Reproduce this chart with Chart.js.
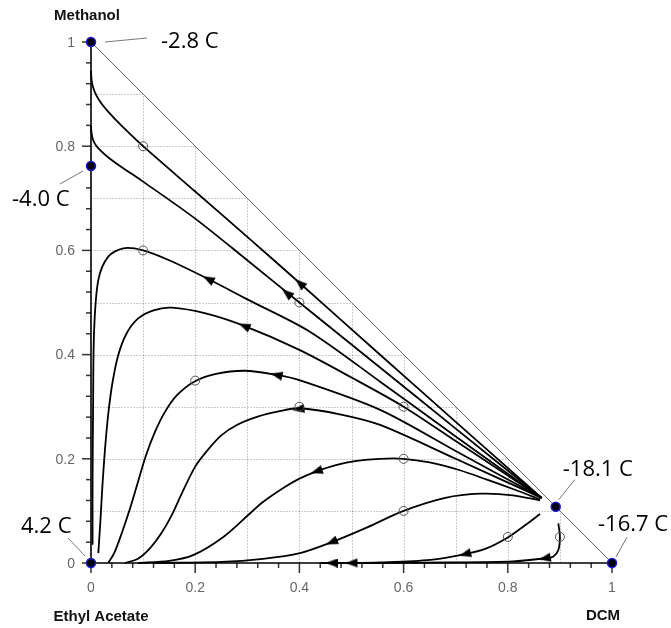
<!DOCTYPE html>
<html>
<head>
<meta charset="utf-8">
<script src="https://cdn.jsdelivr.net/npm/chart.js@4.4.1/dist/chart.umd.min.js"></script>
<style>
  html, body { margin: 0; padding: 0; background: #fff; }
  #wrap { width: 671px; height: 628px; }
</style>
</head>
<body>
<div id="wrap"><canvas id="ternary" width="671" height="628"></canvas></div>
<script>
// Axis ticks and labels
const majorTicks = [0, 0.2, 0.4, 0.6, 0.8, 1];
const tickLabels = ['0', '0.2', '0.4', '0.6', '0.8', '1'];
const gridValues = [0.1, 0.2, 0.3, 0.4, 0.5, 0.6, 0.7, 0.8, 0.9];
const axisNames = ['Methanol', 'Ethyl Acetate', 'DCM'];

// Pure components / azeotropes and their boiling temperatures
const nodePoints = [[0, 1], [0, 0.762], [0, 0], [0.892, 0.108], [1, 0]];
const nodeTemps = ['-2.8 C', '-4.0 C', '4.2 C', '-18.1 C', '-16.7 C'];

// Residue curves, each traced outward from the DCM/methanol azeotrope
const curveA = [[0.865,0.125],[0.7,0.271],[0.55,0.404],[0.401,0.537],[0.3,0.626],[0.2,0.713],[0.1,0.8],[0.06,0.838],[0.035,0.864],[0.02,0.882],[0.01,0.898],[0.004,0.913],[0.001,0.928],[0,0.945]];
const curveB = [[0.865,0.125],[0.7,0.258],[0.55,0.379],[0.4,0.5],[0.3,0.581],[0.2,0.661],[0.1,0.732],[0.06,0.759],[0.035,0.777],[0.02,0.79],[0.01,0.801],[0.004,0.812],[0.001,0.825],[0,0.84]];
const curveC = [[0.865,0.125],[0.7,0.243],[0.555,0.348],[0.42,0.444],[0.3,0.506],[0.225,0.545],[0.15,0.581],[0.1,0.6],[0.062,0.604],[0.033,0.588],[0.014,0.543],[0.006,0.447],[0.004,0.3],[0.003,0.15],[0.003,0.035]];
const curveD = [[0.865,0.125],[0.7,0.234],[0.6,0.3],[0.5,0.356],[0.4,0.409],[0.294,0.455],[0.22,0.479],[0.155,0.49],[0.12,0.485],[0.09,0.469],[0.068,0.44],[0.052,0.398],[0.041,0.345],[0.033,0.285],[0.027,0.22],[0.022,0.15],[0.018,0.08],[0.014,0.019]];
const curveE = [[0.865,0.125],[0.7,0.215],[0.555,0.294],[0.4,0.351],[0.356,0.361],[0.296,0.369],[0.24,0.363],[0.198,0.348],[0.165,0.322],[0.142,0.29],[0.123,0.252],[0.105,0.205],[0.09,0.155],[0.075,0.105],[0.06,0.06],[0.045,0.02],[0.033,0.0]];
const curveF = [[0.865,0.125],[0.7,0.2],[0.555,0.265],[0.48,0.285],[0.4,0.297],[0.36,0.291],[0.32,0.281],[0.28,0.265],[0.25,0.245],[0.225,0.218],[0.2,0.185],[0.175,0.135],[0.155,0.092],[0.135,0.057],[0.113,0.028],[0.09,0.008],[0.065,0.0]];
const curveG = [[0.862,0.122],[0.81,0.142],[0.76,0.16],[0.708,0.178],[0.65,0.193],[0.6,0.2],[0.555,0.2],[0.51,0.196],[0.47,0.188],[0.433,0.176],[0.4,0.162],[0.369,0.144],[0.33,0.117],[0.305,0.095],[0.254,0.05],[0.196,0.015],[0.15,0.004],[0.09,0.0]];
const curveH = [[0.862,0.12],[0.81,0.13],[0.747,0.133],[0.68,0.125],[0.6,0.1],[0.529,0.068],[0.462,0.04],[0.401,0.019],[0.33,0.008],[0.25,0.002],[0.12,0.0]];
const curveI = [[0.862,0.094],[0.83,0.07],[0.8,0.049],[0.759,0.028],[0.718,0.017],[0.651,0.006],[0.555,0.001],[0.5,0.0],[0.44,0.0]];
const curveJ = [[0.897,0.076],[0.9,0.05],[0.897,0.025],[0.887,0.012],[0.871,0.009],[0.81,0.003],[0.68,0.001],[0.5,0.0],[0.462,0.0],[0.44,0.0]];
const curves = [curveA, curveB, curveC, curveD, curveE, curveF, curveG, curveH, curveI, curveJ];

// Arrow heads and open-circle markers on the curves
const arrowPoints = [[0.401,0.537],[0.376,0.518],[0.225,0.545],[0.294,0.455],[0.356,0.361],[0.398,0.295],[0.433,0.176],[0.462,0.04],[0.718,0.017],[0.5,0.0],[0.871,0.009],[0.462,0.0]];
const circlePoints = [[0.1,0.8],[0.4,0.5],[0.1,0.6],[0.2,0.35],[0.4,0.3],[0.6,0.3],[0.6,0.2],[0.6,0.1],[0.8,0.05],[0.9,0.05]];

// small arrowhead image, tip pointing up
const arrowImg = document.createElement('canvas');
arrowImg.width = 9;
arrowImg.height = 12;
const actx = arrowImg.getContext('2d');
actx.fillStyle = '#000';
actx.beginPath();
actx.moveTo(4.5, 0);
actx.lineTo(9, 12);
actx.lineTo(0, 12);
actx.closePath();
actx.fill();

const toXY = arr => arr.map(([x, y]) => ({x, y}));

function segDist(p, a, b) {
  const vx = b[0] - a[0], vy = b[1] - a[1];
  const len = vx * vx + vy * vy || 1e-12;
  let t = ((p[0] - a[0]) * vx + (p[1] - a[1]) * vy) / len;
  t = Math.max(0, Math.min(1, t));
  const dx = a[0] + t * vx - p[0], dy = a[1] + t * vy - p[1];
  return Math.sqrt(dx * dx + dy * dy);
}

// rotation of an arrow = direction of the nearest curve segment, in pixels
function arrowRotation(ctx) {
  const p = arrowPoints[ctx.dataIndex];
  if (!p) return 0;
  let best = null, bestD = Infinity;
  curves.forEach(c => {
    for (let i = 0; i < c.length - 1; i++) {
      const d = segDist(p, c[i], c[i + 1]);
      if (d < bestD) { bestD = d; best = [c[i], c[i + 1]]; }
    }
  });
  const {x, y} = ctx.chart.scales;
  const dx = x.getPixelForValue(best[1][0]) - x.getPixelForValue(best[0][0]);
  const dy = y.getPixelForValue(best[1][1]) - y.getPixelForValue(best[0][1]);
  return Math.atan2(dx, -dy) * 180 / Math.PI;
}

// frame: clipped grid, axes, ticks, tick labels, axis titles
const framePlugin = {
  id: 'ternaryFrame',
  beforeDatasetsDraw(chart) {
    const {ctx, scales: {x, y}} = chart;
    const px = v => x.getPixelForValue(v);
    const py = v => y.getPixelForValue(v);
    ctx.save();

    ctx.strokeStyle = 'rgba(0,0,0,0.2)';
    ctx.lineWidth = 1;
    ctx.setLineDash([2, 1]);
    gridValues.forEach(v => {
      const gy = Math.round(py(v)) + 0.5;
      ctx.beginPath();
      ctx.moveTo(px(0), gy);
      ctx.lineTo(px(1 - v), gy);
      ctx.stroke();
      const gx = Math.round(px(v)) + 0.5;
      ctx.beginPath();
      ctx.moveTo(gx, py(0));
      ctx.lineTo(gx, py(1 - v));
      ctx.stroke();
    });
    ctx.setLineDash([]);

    // ticks every 0.04, longer at labelled values
    ctx.strokeStyle = '#333';
    ctx.lineWidth = 1.5;
    for (let i = 0; i <= 25; i++) {
      const v = i * 0.04;
      const major = i % 5 === 0;
      ctx.beginPath();
      ctx.moveTo(px(0) - (major ? 9 : 5), py(v));
      ctx.lineTo(px(0), py(v));
      ctx.stroke();
      ctx.beginPath();
      ctx.moveTo(px(v), py(0));
      ctx.lineTo(px(v), py(0) + (major ? 10 : 5));
      ctx.stroke();
    }

    // axis lines
    ctx.strokeStyle = '#000';
    ctx.lineWidth = 1.6;
    ctx.beginPath();
    ctx.moveTo(px(0), py(0));
    ctx.lineTo(px(0), py(1));
    ctx.moveTo(px(0), py(0));
    ctx.lineTo(px(1), py(0));
    ctx.stroke();

    // tick labels
    ctx.fillStyle = '#666';
    ctx.font = '14px "Liberation Sans", Arial, sans-serif';
    ctx.textAlign = 'right';
    ctx.textBaseline = 'middle';
    majorTicks.forEach((v, i) => ctx.fillText(tickLabels[i], px(0) - 16, py(v) + 1));
    ctx.textAlign = 'center';
    majorTicks.forEach((v, i) => ctx.fillText(tickLabels[i], px(v), py(0) + 25));

    // axis titles
    ctx.fillStyle = '#111';
    ctx.font = 'bold 15px "Liberation Sans", Arial, sans-serif';
    ctx.fillText(axisNames[0], px(0) - 4, py(1) - 26);
    ctx.fillText(axisNames[1], px(0) + 10, py(0) + 54);
    ctx.fillText(axisNames[2], px(1) - 9, py(0) + 53);
    ctx.restore();
  }
};

// temperature labels with short leader lines
const labelOffsets = [
  {tx: 70, ty: 6, l: [14, 0, 56, -4]},
  {tx: -79, ty: 40, l: [-8, 5, -31, 18]},
  {tx: -70, ty: -30, l: [-6, -7, -23, -25]},
  {tx: 7, ty: -31, l: [3, -7, 19, -27]},
  {tx: -14, ty: -32, l: [4, -6, 15, -26]}
];
const tempLabelPlugin = {
  id: 'tempLabels',
  afterDatasetsDraw(chart) {
    const {ctx, scales: {x, y}} = chart;
    ctx.save();
    ctx.font = '22px "Open Sans", "Noto Sans", sans-serif';
    ctx.fillStyle = '#000';
    ctx.textAlign = 'left';
    ctx.textBaseline = 'alphabetic';
    nodePoints.forEach((p, i) => {
      const cx = x.getPixelForValue(p[0]);
      const cy = y.getPixelForValue(p[1]);
      const o = labelOffsets[i];
      ctx.strokeStyle = '#777';
      ctx.lineWidth = 1;
      ctx.beginPath();
      ctx.moveTo(cx + o.l[0], cy + o.l[1]);
      ctx.lineTo(cx + o.l[2], cy + o.l[3]);
      ctx.stroke();
      ctx.fillText(nodeTemps[i], cx + o.tx, cy + o.ty);
    });
    ctx.restore();
  }
};

const curveSets = curves.map(c => ({
  data: toXY(c),
  showLine: true,
  borderColor: '#000',
  borderWidth: 1.8,
  pointRadius: 0,
  tension: 0.3,
  fill: false,
  clip: false,
  order: 3
}));

new Chart(document.getElementById('ternary'), {
  type: 'scatter',
  data: {
    datasets: [
      {
        data: toXY(nodePoints),
        pointRadius: 4.5,
        pointBackgroundColor: '#000',
        pointBorderColor: '#1a1ad6',
        pointBorderWidth: 1.5,
        clip: false,
        order: 0
      },
      {
        data: toXY(circlePoints),
        pointRadius: 4.5,
        pointBackgroundColor: 'rgba(255,255,255,0)',
        pointBorderColor: '#555',
        pointBorderWidth: 1,
        clip: false,
        order: 1
      },
      {
        data: toXY(arrowPoints),
        pointStyle: arrowImg,
        pointRadius: 5,
        pointRotation: arrowRotation,
        clip: false,
        order: 2
      },
      ...curveSets,
      {
        data: toXY([nodePoints[0], nodePoints[4]]),
        showLine: true,
        borderColor: '#666',
        borderWidth: 1,
        pointRadius: 0,
        clip: false,
        order: 4
      }
    ]
  },
  options: {
    responsive: false,
    devicePixelRatio: 1,
    animation: false,
    events: [],
    layout: { padding: { left: 91, right: 59, top: 42, bottom: 65 } },
    scales: {
      x: { type: 'linear', min: 0, max: 1, display: false },
      y: { type: 'linear', min: 0, max: 1, display: false }
    },
    plugins: {
      legend: { display: false },
      tooltip: { enabled: false }
    }
  },
  plugins: [framePlugin, tempLabelPlugin]
});
</script>
</body>
</html>
